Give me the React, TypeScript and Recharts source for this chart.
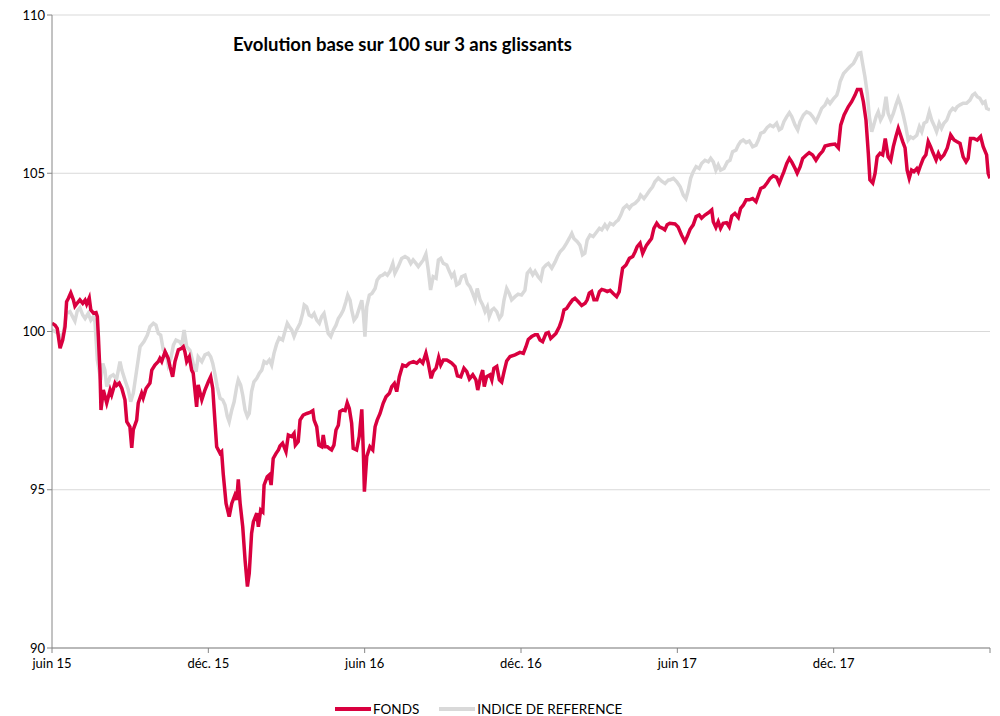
import { LineChart, Line, XAxis, YAxis, CartesianGrid } from 'recharts';

// x = months since 1 June 2015, y = base 100
const fonds: [number, number][] = [
  [0, 100.26], [0.12, 100.2], [0.2, 100.1], [0.31, 99.47], [0.41, 99.73], [0.5, 100.15],
  [0.56, 100.94], [0.63, 101.05], [0.72, 101.22], [0.82, 101.0], [0.88, 100.8], [0.97, 100.9],
  [1.07, 101.0], [1.18, 100.89], [1.27, 100.99], [1.33, 100.86], [1.43, 101.06], [1.49, 100.68],
  [1.59, 100.58], [1.69, 100.6], [1.74, 100.47], [1.78, 99.84], [1.82, 99.1], [1.84, 98.78],
  [1.88, 97.52], [1.97, 98.15], [2.1, 97.74], [2.23, 98.15], [2.29, 98.0], [2.42, 98.37],
  [2.48, 98.3], [2.58, 98.37], [2.68, 98.2], [2.8, 97.84], [2.87, 97.15], [2.99, 96.99],
  [3.06, 96.32], [3.12, 96.9], [3.25, 97.2], [3.31, 97.74], [3.44, 98.05], [3.5, 97.9],
  [3.61, 98.2], [3.7, 98.3], [3.76, 98.37], [3.83, 98.78], [3.95, 98.94], [4.08, 99.05],
  [4.14, 99.15], [4.21, 99.05], [4.34, 99.36], [4.46, 99.15], [4.53, 98.89], [4.63, 98.57],
  [4.72, 99.05], [4.85, 99.42], [4.98, 99.47], [5.04, 99.52], [5.1, 99.36], [5.17, 99.05],
  [5.27, 99.2], [5.36, 98.78], [5.42, 98.68], [5.55, 97.62], [5.61, 98.31], [5.75, 97.84],
  [5.87, 98.15], [6.0, 98.41], [6.09, 98.57], [6.17, 98.2], [6.22, 97.57], [6.32, 96.36],
  [6.45, 96.15], [6.51, 96.2], [6.57, 95.52], [6.68, 94.57], [6.8, 94.15], [6.9, 94.57],
  [7.02, 94.83], [7.09, 94.68], [7.15, 95.33], [7.22, 94.57], [7.32, 93.83], [7.41, 92.78],
  [7.5, 91.94], [7.57, 92.36], [7.66, 93.62], [7.73, 93.99], [7.86, 94.26], [7.92, 93.83],
  [8.01, 94.36], [8.09, 94.3], [8.14, 95.15], [8.26, 95.41], [8.34, 95.47], [8.41, 95.15],
  [8.49, 95.99], [8.6, 96.15], [8.69, 96.26], [8.75, 96.38], [8.85, 96.47], [8.98, 96.2],
  [9.07, 96.73], [9.2, 96.68], [9.29, 96.78], [9.34, 96.41], [9.45, 96.52], [9.52, 97.2],
  [9.64, 97.36], [9.78, 97.41], [9.9, 97.44], [10.01, 97.5], [10.06, 97.2], [10.16, 96.99],
  [10.24, 96.41], [10.35, 96.36], [10.41, 96.73], [10.48, 96.36], [10.57, 96.36], [10.64, 96.31],
  [10.73, 96.26], [10.82, 96.41], [10.9, 96.89], [10.99, 97.04], [11.05, 97.47], [11.16, 97.52],
  [11.25, 97.5], [11.33, 97.75], [11.41, 97.57], [11.5, 97.1], [11.56, 96.31], [11.69, 96.26],
  [11.79, 96.68], [11.89, 97.54], [11.95, 96.16], [11.99, 94.94], [12.08, 96.05], [12.2, 96.36],
  [12.31, 96.26], [12.4, 96.99], [12.48, 97.2], [12.59, 97.41], [12.71, 97.73], [12.82, 97.94],
  [12.95, 98.05], [13.04, 98.26], [13.14, 98.36], [13.23, 98.1], [13.33, 98.57], [13.46, 98.94],
  [13.59, 98.9], [13.71, 99.0], [13.87, 99.05], [14.0, 99.0], [14.12, 99.1], [14.23, 99.0],
  [14.35, 99.31], [14.44, 99.0], [14.55, 98.52], [14.63, 98.73], [14.74, 98.84], [14.84, 99.18],
  [14.92, 98.94], [15.02, 99.1], [15.15, 99.1], [15.25, 99.05], [15.34, 99.0], [15.47, 98.89],
  [15.56, 98.6], [15.69, 98.57], [15.81, 98.84], [15.92, 98.73], [16.02, 98.5], [16.15, 98.63],
  [16.27, 98.47], [16.34, 98.15], [16.45, 98.57], [16.53, 98.78], [16.59, 98.26], [16.68, 98.57],
  [16.81, 98.63], [16.88, 98.47], [16.96, 98.84], [17.07, 98.9], [17.17, 98.47], [17.26, 98.4],
  [17.35, 98.73], [17.45, 99.07], [17.58, 99.21], [17.77, 99.26], [17.96, 99.34], [18.09, 99.31],
  [18.19, 99.52], [18.28, 99.75], [18.41, 99.84], [18.54, 99.9], [18.63, 99.9], [18.73, 99.73],
  [18.83, 99.68], [18.96, 99.94], [19.05, 99.97], [19.14, 99.78], [19.24, 99.86], [19.34, 99.94],
  [19.47, 100.15], [19.56, 100.36], [19.65, 100.68], [19.75, 100.73], [19.88, 100.89], [19.98, 101.0],
  [20.07, 101.05], [20.2, 100.94], [20.33, 100.82], [20.46, 100.89], [20.54, 101.0], [20.62, 101.21],
  [20.71, 101.26], [20.8, 101.0], [20.91, 101.0], [21.01, 101.26], [21.1, 101.33], [21.22, 101.3],
  [21.31, 101.26], [21.42, 101.3], [21.54, 101.2], [21.67, 101.1], [21.77, 101.26], [21.83, 101.63],
  [21.9, 102.0], [22.03, 102.1], [22.16, 102.31], [22.29, 102.37], [22.38, 102.52], [22.46, 102.68],
  [22.57, 102.79], [22.67, 102.47], [22.76, 102.63], [22.82, 102.73], [22.92, 102.84], [23.01, 102.94],
  [23.1, 103.26], [23.21, 103.42], [23.31, 103.31], [23.44, 103.26], [23.52, 103.21], [23.61, 103.37],
  [23.71, 103.42], [23.91, 103.4], [24.03, 103.3], [24.16, 103.05], [24.29, 102.84], [24.38, 103.0],
  [24.49, 103.23], [24.61, 103.37], [24.72, 103.63], [24.84, 103.68], [24.93, 103.58], [25.06, 103.68],
  [25.19, 103.75], [25.32, 103.84], [25.38, 103.47], [25.48, 103.29], [25.57, 103.47], [25.66, 103.26],
  [25.76, 103.42], [25.89, 103.44], [25.99, 103.31], [26.09, 103.65], [26.21, 103.73], [26.34, 103.6],
  [26.43, 103.89], [26.53, 103.99], [26.64, 104.16], [26.76, 104.16], [26.89, 104.2], [27.02, 104.1],
  [27.11, 104.31], [27.2, 104.52], [27.33, 104.57], [27.45, 104.7], [27.56, 104.84], [27.68, 104.92],
  [27.81, 104.87], [27.91, 104.68], [28.0, 104.87], [28.09, 105.05], [28.2, 105.31], [28.3, 105.47],
  [28.39, 105.36], [28.52, 105.15], [28.6, 105.0], [28.71, 105.2], [28.81, 105.47], [28.94, 105.57],
  [29.06, 105.65], [29.19, 105.58], [29.32, 105.41], [29.45, 105.58], [29.58, 105.7], [29.67, 105.86],
  [29.86, 105.9], [30.05, 105.92], [30.18, 105.8], [30.27, 106.52], [30.4, 106.84], [30.56, 107.1],
  [30.69, 107.26], [30.82, 107.47], [30.91, 107.65], [31.04, 107.65], [31.14, 107.26], [31.24, 106.68],
  [31.33, 105.63], [31.39, 104.79], [31.5, 104.69], [31.59, 105.0], [31.67, 105.52], [31.78, 105.63],
  [31.88, 105.58], [31.98, 106.1], [32.09, 105.52], [32.19, 105.4], [32.29, 105.84], [32.39, 106.16],
  [32.48, 106.42], [32.57, 106.2], [32.65, 106.0], [32.74, 105.8], [32.82, 105.1], [32.9, 104.84],
  [32.99, 105.1], [33.08, 105.05], [33.19, 105.15], [33.25, 105.05], [33.34, 105.26], [33.44, 105.47],
  [33.54, 105.58], [33.63, 106.0], [33.72, 105.84], [33.82, 105.63], [33.93, 105.42], [34.02, 105.63],
  [34.11, 105.47], [34.23, 105.58], [34.36, 105.8], [34.49, 106.21], [34.62, 106.05], [34.72, 106.0],
  [34.85, 105.94], [34.97, 105.52], [35.08, 105.36], [35.16, 105.47], [35.25, 106.1], [35.38, 106.1],
  [35.51, 106.05], [35.64, 106.16], [35.74, 105.84], [35.87, 105.58], [35.93, 105.0], [36.0, 104.84],
];

const indice: [number, number][] = [
  [0, 100.05], [0.12, 100.0], [0.24, 99.94], [0.33, 99.82], [0.43, 99.94], [0.56, 100.57],
  [0.69, 100.63], [0.79, 100.47], [0.88, 100.33], [0.97, 100.65], [1.07, 100.75], [1.18, 100.52],
  [1.27, 100.41], [1.39, 100.57], [1.49, 100.36], [1.59, 100.47], [1.65, 100.3], [1.74, 99.1],
  [1.87, 98.47], [1.95, 98.99], [2.03, 98.78], [2.1, 98.26], [2.23, 98.57], [2.35, 98.63],
  [2.48, 98.5], [2.61, 99.05], [2.68, 98.78], [2.8, 98.47], [2.93, 98.15], [3.02, 97.78],
  [3.12, 98.05], [3.25, 98.78], [3.38, 99.52], [3.53, 99.68], [3.66, 99.89], [3.76, 100.15],
  [3.89, 100.26], [3.99, 100.2], [4.08, 99.94], [4.17, 99.89], [4.27, 99.42], [4.38, 99.31],
  [4.46, 98.94], [4.56, 99.15], [4.66, 99.57], [4.76, 99.73], [4.89, 99.68], [4.98, 99.57],
  [5.07, 100.05], [5.17, 99.52], [5.3, 99.4], [5.42, 98.99], [5.53, 98.73], [5.61, 99.2],
  [5.75, 99.05], [5.87, 99.26], [6.0, 99.31], [6.09, 99.2], [6.17, 98.99], [6.26, 98.63],
  [6.34, 98.26], [6.45, 97.89], [6.55, 97.84], [6.64, 97.68], [6.73, 97.31], [6.8, 97.15],
  [6.9, 97.52], [6.99, 97.78], [7.09, 98.26], [7.15, 98.47], [7.24, 98.31], [7.32, 97.99],
  [7.41, 97.52], [7.5, 97.31], [7.57, 97.41], [7.66, 98.1], [7.75, 98.41], [7.86, 98.52],
  [7.96, 98.68], [8.05, 98.78], [8.14, 99.05], [8.24, 99.0], [8.34, 99.1], [8.43, 98.94],
  [8.52, 99.31], [8.62, 99.6], [8.72, 99.8], [8.85, 99.73], [8.94, 100.0], [9.03, 100.26],
  [9.11, 100.15], [9.2, 100.05], [9.29, 99.84], [9.39, 100.05], [9.52, 100.26], [9.62, 100.57],
  [9.68, 100.84], [9.77, 100.78], [9.87, 100.52], [9.97, 100.47], [10.06, 100.57], [10.16, 100.36],
  [10.26, 100.26], [10.35, 100.47], [10.44, 100.57], [10.52, 100.26], [10.6, 99.94], [10.7, 99.84],
  [10.8, 100.05], [10.9, 100.2], [10.99, 100.41], [11.08, 100.52], [11.18, 100.68], [11.28, 100.94],
  [11.35, 101.15], [11.44, 100.99], [11.5, 100.68], [11.59, 100.36], [11.69, 100.47], [11.79, 100.73],
  [11.89, 100.99], [11.95, 100.57], [12.01, 99.84], [12.08, 100.78], [12.18, 101.15], [12.28, 101.2],
  [12.4, 101.36], [12.48, 101.63], [12.59, 101.75], [12.69, 101.78], [12.78, 101.84], [12.87, 101.78],
  [12.97, 101.9], [13.08, 102.15], [13.16, 101.84], [13.29, 102.05], [13.42, 102.31], [13.55, 102.37],
  [13.67, 102.31], [13.77, 102.15], [13.86, 102.26], [13.97, 102.15], [14.06, 102.05], [14.15, 102.15],
  [14.25, 102.26], [14.35, 102.45], [14.44, 101.95], [14.53, 101.31], [14.63, 101.73], [14.74, 101.68],
  [14.83, 102.26], [14.92, 102.31], [15.02, 102.15], [15.15, 102.1], [15.25, 101.9], [15.34, 101.73],
  [15.43, 101.84], [15.53, 101.47], [15.63, 101.52], [15.72, 101.73], [15.85, 101.78], [15.94, 101.52],
  [16.04, 101.42], [16.15, 101.2], [16.24, 101.0], [16.32, 101.36], [16.43, 101.0], [16.53, 100.84],
  [16.62, 100.63], [16.71, 100.78], [16.78, 100.47], [16.88, 100.68], [16.96, 100.73], [17.07, 100.63],
  [17.17, 100.41], [17.26, 100.52], [17.35, 101.0], [17.45, 101.36], [17.55, 101.2], [17.64, 101.0],
  [17.77, 101.1], [17.89, 101.18], [18.02, 101.15], [18.15, 101.3], [18.24, 101.84], [18.35, 101.95],
  [18.45, 101.79], [18.54, 101.9], [18.66, 101.73], [18.76, 101.63], [18.85, 102.0], [18.96, 102.1],
  [19.05, 102.15], [19.18, 102.0], [19.31, 102.2], [19.4, 102.37], [19.5, 102.52], [19.63, 102.63],
  [19.75, 102.79], [19.85, 102.94], [19.95, 103.1], [20.03, 102.94], [20.16, 102.84], [20.26, 102.73],
  [20.36, 102.42], [20.45, 102.47], [20.54, 102.89], [20.65, 103.05], [20.77, 103.0], [20.91, 103.15],
  [21.01, 103.26], [21.1, 103.21], [21.22, 103.37], [21.31, 103.26], [21.42, 103.42], [21.54, 103.37],
  [21.65, 103.47], [21.73, 103.52], [21.83, 103.68], [21.93, 103.89], [22.06, 103.99], [22.16, 103.89],
  [22.25, 103.99], [22.38, 104.05], [22.51, 104.16], [22.59, 104.31], [22.72, 104.2], [22.82, 104.31],
  [22.95, 104.47], [23.05, 104.57], [23.14, 104.73], [23.27, 104.85], [23.4, 104.75], [23.53, 104.68],
  [23.66, 104.79], [23.72, 104.79], [23.85, 104.84], [23.98, 104.73], [24.11, 104.57], [24.23, 104.31],
  [24.33, 104.2], [24.42, 104.47], [24.51, 104.84], [24.61, 105.05], [24.72, 105.21], [24.84, 105.15],
  [24.93, 105.31], [25.06, 105.41], [25.19, 105.36], [25.28, 105.47], [25.38, 105.36], [25.48, 105.1],
  [25.57, 105.26], [25.66, 105.1], [25.79, 105.15], [25.92, 105.36], [26.02, 105.41], [26.12, 105.68],
  [26.25, 105.73], [26.34, 105.89], [26.43, 106.0], [26.53, 106.05], [26.64, 105.97], [26.76, 106.02],
  [26.89, 105.84], [27.02, 105.89], [27.11, 106.05], [27.2, 106.26], [27.33, 106.31], [27.45, 106.45],
  [27.56, 106.52], [27.68, 106.47], [27.81, 106.58], [27.91, 106.37], [28.0, 106.42], [28.09, 106.63],
  [28.2, 106.79], [28.3, 106.91], [28.39, 106.79], [28.52, 106.52], [28.62, 106.37], [28.71, 106.63],
  [28.84, 106.84], [28.96, 106.94], [29.09, 106.89], [29.19, 106.79], [29.32, 106.63], [29.41, 106.79],
  [29.54, 107.05], [29.67, 107.16], [29.76, 107.31], [29.86, 107.2], [29.99, 107.35], [30.12, 107.47],
  [30.18, 107.63], [30.25, 107.9], [30.38, 108.15], [30.5, 108.26], [30.63, 108.37], [30.76, 108.47],
  [30.86, 108.63], [30.95, 108.79], [31.04, 108.81], [31.12, 108.42], [31.2, 108.05], [31.29, 107.52],
  [31.37, 106.79], [31.46, 106.31], [31.52, 106.47], [31.63, 106.79], [31.71, 106.94], [31.8, 106.68],
  [31.9, 106.84], [32.01, 107.42], [32.09, 106.89], [32.19, 106.68], [32.29, 106.89], [32.39, 107.16],
  [32.48, 107.37], [32.57, 107.16], [32.67, 106.84], [32.77, 106.47], [32.86, 106.05], [32.95, 106.15],
  [33.05, 106.1], [33.19, 106.2], [33.29, 106.47], [33.38, 106.31], [33.47, 106.58], [33.57, 106.63],
  [33.67, 106.94], [33.76, 106.68], [33.85, 106.52], [33.95, 106.31], [34.05, 106.58], [34.14, 106.42],
  [34.23, 106.58], [34.34, 106.68], [34.46, 106.94], [34.57, 107.05], [34.66, 107.0], [34.74, 107.1],
  [34.85, 107.16], [34.97, 107.21], [35.1, 107.21], [35.23, 107.31], [35.33, 107.47], [35.42, 107.52],
  [35.51, 107.42], [35.61, 107.37], [35.72, 107.21], [35.81, 107.26], [35.87, 107.05], [36.0, 107.0],
];

const xTicks = [0, 6, 12, 18, 24, 30, 36];
const xTickLabels = ['juin 15', 'déc. 15', 'juin 16', 'déc. 16', 'juin 17', 'déc. 17', ''];
const yTicks = [90, 95, 100, 105, 110];

const fondsData = fonds.map(([m, v]) => ({ m, v }));
const indiceData = indice.map(([m, v]) => ({ m, v }));

const RED = '#d9003f';
const GREY = '#d9d9d9';
const FONT = 'Lato, "Open Sans", sans-serif';

export default function App() {
  return (
    <div style={{ position: 'absolute', left: 0, top: 0, width: 1000, height: 716, background: '#fff', fontFamily: FONT }}>
      <LineChart width={1000} height={716} margin={{ top: 15, right: 10, bottom: 0, left: 0 }}>
        <CartesianGrid vertical={false} stroke="#d9d9d9" />
        <XAxis
          type="number"
          dataKey="m"
          domain={[0, 36]}
          ticks={xTicks}
          tickFormatter={(v) => xTickLabels[xTicks.indexOf(v)] ?? ''}
          height={68}
          stroke="#868686"
          tickSize={5}
          tickMargin={6}
          tick={{ fill: '#000', fontSize: 13, fontFamily: FONT }}
          allowDataOverflow
        />
        <YAxis
          domain={[90, 110]}
          ticks={yTicks}
          width={52}
          stroke="#868686"
          tickSize={5}
          tick={{ fill: '#000', fontSize: 13, fontFamily: FONT }}
        />
        <Line
          data={indiceData}
          dataKey="v"
          type="linear"
          stroke={GREY}
          strokeWidth={3.5}
          dot={false}
          isAnimationActive={false}
        />
        <Line
          data={fondsData}
          dataKey="v"
          type="linear"
          stroke={RED}
          strokeWidth={3.5}
          dot={false}
          isAnimationActive={false}
        />
      </LineChart>
      <div style={{ position: 'absolute', left: 233, top: 33, fontSize: 18.5, fontWeight: 700, color: '#000', whiteSpace: 'nowrap' }}>
        Evolution base sur 100 sur 3 ans glissants
      </div>
      <div style={{ position: 'absolute', left: 335, top: 701, display: 'flex', alignItems: 'center', fontSize: 13.5, color: '#000' }}>
        <span style={{ width: 36, height: 4, background: RED, display: 'inline-block' }} />
        <span style={{ marginLeft: 2 }}>FONDS</span>
        <span style={{ width: 36, height: 4, background: GREY, display: 'inline-block', marginLeft: 20 }} />
        <span style={{ marginLeft: 2 }}>INDICE DE REFERENCE</span>
      </div>
    </div>
  );
}
